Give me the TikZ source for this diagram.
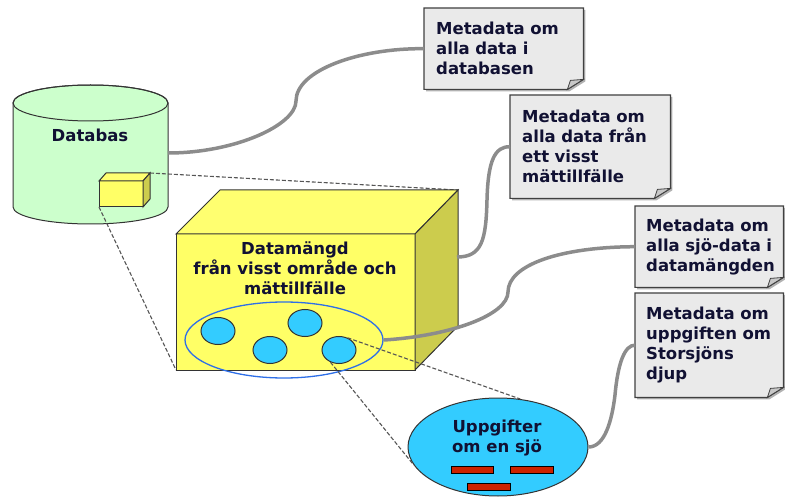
\documentclass[tikz,border=0pt]{standalone}
\usepackage{fontspec}
\setmainfont{DejaVu Sans}
\usetikzlibrary{shapes.geometric,backgrounds}
\definecolor{cylfill}{HTML}{CCFFCC}
\definecolor{boxfront}{HTML}{FFFF66}
\definecolor{boxtop}{HTML}{FFFF70}
\definecolor{boxside}{HTML}{CCCC4D}
\definecolor{cyanf}{HTML}{33CCFF}
\definecolor{selblue}{HTML}{2E6FE8}
\definecolor{notef}{HTML}{EAEAEA}
\definecolor{foldf}{HTML}{C8C8C8}
\definecolor{noted}{HTML}{404040}
\definecolor{conngray}{HTML}{8C8C8C}
\definecolor{txt}{HTML}{111133}
\definecolor{edge}{HTML}{333333}
\definecolor{dashc}{HTML}{555555}
\definecolor{barred}{HTML}{CC2200}
\newcommand\notepath[1]{%
  \fill[black!30] ([xshift=2pt,yshift=-2pt]#1.north west) -- ([xshift=2pt,yshift=-2pt]#1.north east) -- ([xshift=2pt,yshift=8pt]#1.south east) -- ([xshift=-14pt,yshift=-2pt]#1.south east) -- ([xshift=2pt,yshift=-2pt]#1.south west) -- cycle;
  \filldraw[fill=notef, draw=noted, line width=1.2pt] (#1.north west) -- (#1.north east) -- ([yshift=10pt]#1.south east) -- ([xshift=-16pt]#1.south east) -- (#1.south west) -- cycle;
  \filldraw[fill=foldf, draw=noted, line width=0.8pt] ([yshift=10pt]#1.south east) -- ([xshift=-13pt,yshift=9pt]#1.south east) -- ([xshift=-16pt]#1.south east) -- cycle;}
\begin{document}
\begin{tikzpicture}[x=1pt,y=-1pt,
  lbl/.style={font=\fontsize{16.5}{20}\selectfont\bfseries, text=txt, inner sep=0pt},
  notetxt/.style={lbl, align=left, anchor=north west, inner xsep=12pt, inner ysep=0pt},
  conn/.style={draw=conngray, line width=3.5pt},
  dash line/.style={draw=dashc, line width=1.1pt, dash pattern=on 4pt off 2pt},
  outl/.style={draw=edge, line width=1pt},
  blob/.style={ellipse, draw=edge, fill=cyanf, line width=1pt, minimum width=34pt, minimum height=27pt, inner sep=0pt},
  bar/.style={fill=barred, draw=black, line width=0.8pt},
]
\useasboundingbox (0,0) rectangle (785,497);

% database cylinder
\coordinate (cylR) at (168,153);
\filldraw[fill=cylfill, outl] (13,103) -- (13,207) arc[start angle=180, end angle=360, x radius=77.5pt, y radius=17pt] -- (168,103) arc[start angle=0, end angle=180, x radius=77.5pt, y radius=18pt] -- cycle;
\draw[outl] (90.5,103) ellipse [x radius=77.5pt, y radius=18pt];
\node[lbl] (db) at (90,135) {Databas};

% small box
\coordinate (sbFL) at (99,181);
\coordinate (sbFR) at (143,181);
\coordinate (sbBL) at (99,207);
\coordinate (sbBR) at (143,207);
\coordinate (sbTL) at (106,173);
\coordinate (sbTR) at (150,173);
\coordinate (sbSR) at (150,199);
\filldraw[fill=boxfront, outl] (sbFL) rectangle (sbBR);
\filldraw[fill=boxtop, outl] (sbFL) -- (sbTL) -- (sbTR) -- (sbFR) -- cycle;
\filldraw[fill=boxside, outl] (sbFR) -- (sbTR) -- (sbSR) -- (sbBR) -- cycle;

% big box
\coordinate (bbFL) at (176,234);
\coordinate (bbFR) at (415,234);
\coordinate (bbBL) at (176,370);
\coordinate (bbBR) at (415,370);
\coordinate (bbTL) at (220,190);
\coordinate (bbTR) at (458,190);
\coordinate (bbSR) at (458,326);
\coordinate (bbC) at (457,257);

\draw[dash line] (sbTR) -- (bbTR);
\draw[dash line] (sbBL) -- (bbBL);

\filldraw[fill=boxfront, outl] (bbFL) rectangle (bbBR);
\filldraw[fill=boxtop, outl] (bbFL) -- (bbTL) -- (bbTR) -- (bbFR) -- cycle;
\filldraw[fill=boxside, outl] (bbFR) -- (bbTR) -- (bbSR) -- (bbBR) -- cycle;
\node[lbl, align=center] (dm) at (295,268) {Datamängd\\från visst område och\\mättillfälle};

\node[ellipse, draw=selblue, line width=1.3pt, minimum width=198pt, minimum height=76pt] (sel) at (284,340) {};
\node[blob] (c1) at (218,331) {};
\node[blob] (c2) at (270,350) {};
\node[blob] (c3) at (305,323) {};
\node[blob] (c4) at (339,350) {};

% lake
\node[ellipse, draw=edge, fill=cyanf, line width=1pt, minimum width=180pt, minimum height=98pt] (lake) at (498,447) {};
\node[lbl, align=center] (lk) at (497,438) {Uppgifter\\om en sjö};
\filldraw[bar] (451,466) rectangle (493,473);
\filldraw[bar] (510,466) rectangle (553,473);
\filldraw[bar] (467,483) rectangle (510,490);

\draw[dash line] (c4.55) -- (lake.65);
\draw[dash line] (c4.235) -- (lake.192);

% notes
\node[notetxt, text width=135pt, minimum height=81pt] (n1) at (424,8) {Metadata om\\alla data i\\databasen};
\node[notetxt, text width=136pt, minimum height=103pt] (n2) at (510,95) {Metadata om\\alla data från\\ett visst\\mättillfälle};
\node[notetxt, text width=126pt, inner xsep=11pt, minimum height=81pt] (n3) at (635,206) {Metadata om\\alla sjö-data i\\datamängden};
\node[notetxt, text width=126pt, inner xsep=11pt, minimum height=104pt] (n4) at (635,293) {Metadata om\\uppgiften om\\Storsjöns\\djup};
\begin{pgfonlayer}{background}
\notepath{n1}
\notepath{n2}
\notepath{n3}
\notepath{n4}
\end{pgfonlayer}

% connectors
\draw[conn] (cylR) .. controls (235,153) and (296,125) .. (296,101) .. controls (296,70) and (360,48) .. (n1.west);
\draw[conn] (bbC) .. controls (482,257) and (486,240) .. (487,200) .. controls (488,160) and (495,146.5) .. (n2.west);
\draw[conn] (sel.east) .. controls (450,336) and (508,315) .. (508,292) .. controls (508,265) and (560,247) .. (n3.west);
\draw[conn] (lake.east) .. controls (605,447) and (612,420) .. (615,395) .. controls (618,362) and (625,345) .. (n4.west);
\end{tikzpicture}
\end{document}
